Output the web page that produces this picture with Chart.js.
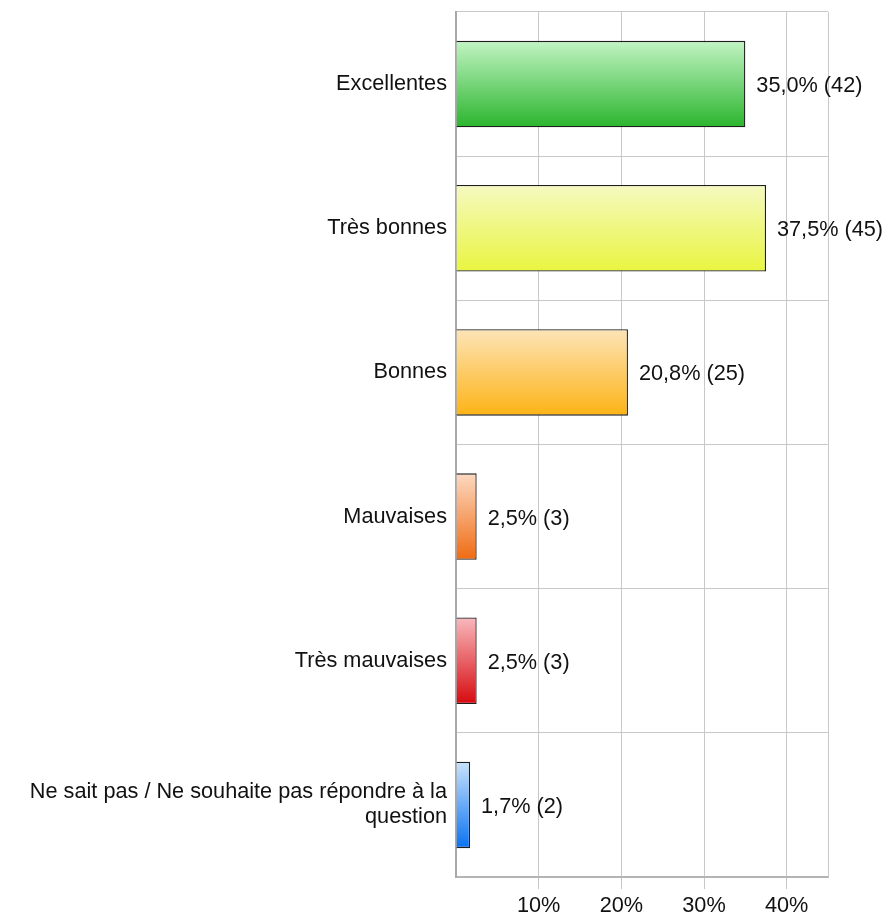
<!DOCTYPE html>
<html>
<head>
<meta charset="utf-8">
<script src="https://cdn.jsdelivr.net/npm/chart.js@4/dist/chart.umd.min.js"></script>
<style>
  html, body { margin: 0; padding: 0; background: #fff; }
  #wrap { width: 885px; height: 916px; }
</style>
</head>
<body>
<div id="wrap"><canvas id="myBarChart" width="885" height="916"></canvas></div>
<script>
// data
const categories = [
  "Excellentes",
  "Très bonnes",
  "Bonnes",
  "Mauvaises",
  "Très mauvaises",
  ["Ne sait pas / Ne souhaite pas répondre à la", "question"],
];
const percents = [35.0, 37.5, 20.8, 2.5, 2.5, 1.7];
const counts = [42, 45, 25, 3, 3, 2];
const topColors = ["#c2f4c4", "#f5f9c0", "#fde4b8", "#fcd9c2", "#f9b9bd", "#c9e3fb"];
const bottomColors = ["#2bb52d", "#e9f540", "#fdb315", "#f06b12", "#d60a0f", "#0a72f2"];

const FONT = "'Liberation Sans', Arial, sans-serif";
const FONT_SIZE = 21.7;

// vertical gradient per bar
function barGradient(context) {
  const chart = context.chart;
  const i = context.dataIndex;
  const area = chart.chartArea;
  if (!area || !chart.scales.y) return bottomColors[i];
  const y = chart.scales.y.getPixelForValue(i);
  const half = (area.bottom - area.top) / categories.length * 0.6 / 2;
  const g = chart.ctx.createLinearGradient(0, y - half, 0, y + half);
  g.addColorStop(0, topColors[i]);
  g.addColorStop(1, bottomColors[i]);
  return g;
}

// value labels to the right of each bar + right frame line
const barLabels = {
  id: "barLabels",
  afterDatasetsDraw(chart) {
    const ctx = chart.ctx;
    const area = chart.chartArea;
    ctx.save();
    ctx.strokeStyle = "#c8c8c8";
    ctx.lineWidth = 1;
    ctx.beginPath();
    ctx.moveTo(area.right + 0.5, area.top);
    ctx.lineTo(area.right + 0.5, area.bottom);
    ctx.stroke();

    ctx.font = FONT_SIZE + "px " + FONT;
    ctx.fillStyle = "#111";
    ctx.textAlign = "left";
    ctx.textBaseline = "middle";
    chart.getDatasetMeta(0).data.forEach((bar, i) => {
      const txt = percents[i].toFixed(1).replace(".", ",") + "% (" + counts[i] + ")";
      ctx.fillText(txt, bar.x + 11, bar.y + 2);
    });
    ctx.restore();
  },
};

const ctx = document.getElementById("myBarChart").getContext("2d");
const myBarChart = new Chart(ctx, {
  type: "bar",
  data: {
    labels: categories,
    datasets: [
      {
        data: percents,
        backgroundColor: barGradient,
        borderColor: "#1e1e1e",
        borderWidth: 1.3,
        borderSkipped: "left",
        categoryPercentage: 1,
        barPercentage: 0.6,
      },
    ],
  },
  options: {
    indexAxis: "y",
    responsive: false,
    animation: false,
    devicePixelRatio: 1,
    layout: {
      padding: { top: 12, right: 57, bottom: 0, left: 0 },
    },
    plugins: {
      legend: { display: false },
      tooltip: { enabled: false },
    },
    scales: {
      x: {
        min: 0,
        max: 45,
        ticks: {
          stepSize: 10,
          includeBounds: false,
          color: "#111",
          font: { family: FONT, size: FONT_SIZE },
          padding: 4,
          callback: (v) => (v === 0 ? "" : v + "%"),
        },
        grid: {
          color: (c) => (c.tick && c.tick.value === 0 ? "rgba(0,0,0,0)" : "#c8c8c8"),
          tickColor: (c) => (c.tick && c.tick.value === 0 ? "rgba(0,0,0,0)" : "#c8c8c8"),
          tickLength: 12,
        },
        border: { color: "#b4b4b4", width: 2 },
        afterFit: (scale) => {
          scale.height = 39;
          scale.paddingLeft = 0;
          scale.paddingRight = 0;
        },
      },
      y: {
        ticks: {
          color: "#111",
          font: { family: FONT, size: FONT_SIZE, lineHeight: 1.15 },
          padding: 9,
        },
        grid: {
          color: "#c8c8c8",
          drawTicks: false,
          offset: true,
        },
        border: { color: "#a8a8a8", width: 2 },
        afterFit: (scale) => {
          scale.width = 456;
          scale.paddingTop = 0;
          scale.paddingBottom = 0;
        },
      },
    },
  },
  plugins: [barLabels],
});
</script>
</body>
</html>
